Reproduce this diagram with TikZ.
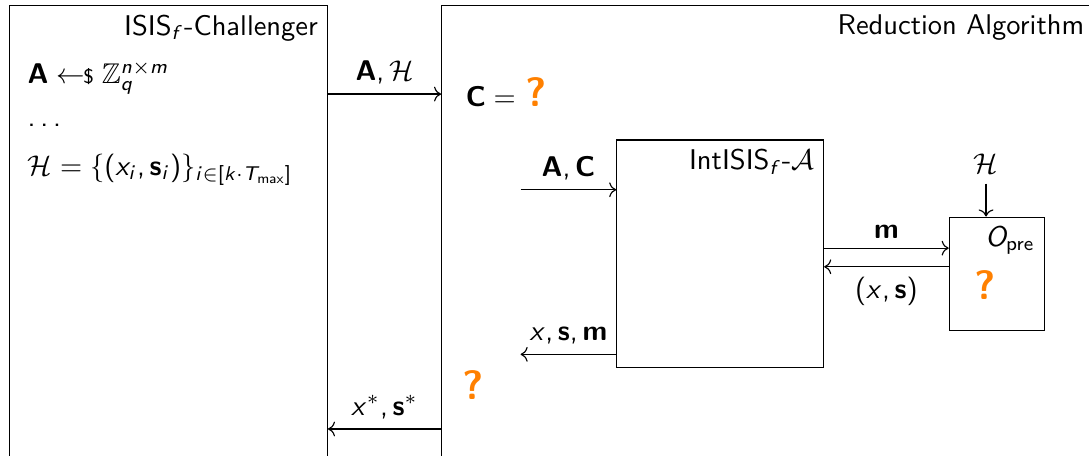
\documentclass[tikz,border=0pt]{standalone}
\usepackage{amsmath,amssymb}
\usepackage{tikz}
\usetikzlibrary{arrows.meta,positioning,calc}
\usepackage{xcolor}
\renewcommand{\familydefault}{\sfdefault}
% 无衬线数学字体
\SetSymbolFont{operators}{normal}{OT1}{cmss}{m}{n}
\SetSymbolFont{letters}{normal}{OT1}{cmss}{m}{sl}
\DeclareMathAlphabet{\mathbf}{OT1}{cmss}{bx}{n}
\DeclareMathSymbol{,}{\mathpunct}{operators}{"2C}
\definecolor{qorange}{RGB}{255,128,0}
\newcommand{\qmark}{\textcolor{qorange}{\textbf{\Large ?}}}

\begin{document}
\begin{tikzpicture}[
    box/.style={draw, inner sep=0pt, anchor=north west},
    title/.style={anchor=north east},
    line/.style={anchor=west, inner sep=1pt}
]
    \useasboundingbox (0,0) rectangle (13.43,5.62);
    \clip (0,0) rectangle (13.43,5.62);

    % 挑战者
    \node[box, minimum width=3.92cm, minimum height=6cm] (chal) at (0.11,5.56) {};
    \node[title] at (chal.north east) {ISIS$_f$-Challenger};
    \node[line] (samp) at (0.30,4.66) {$\mathbf{A} \leftarrow\!\!{\scriptstyle\$}\; \mathbb{Z}_q^{n\times m}$};
    \node[line] (dots) at (0.30,4.07) {.\,.\,.};
    \node[line] (hist) at (0.30,3.53) {$\mathcal{H} = \{(x_i, \mathbf{s}_i)\}_{i\in[k\cdot T_{\max}]}$};

    % 归约算法
    \node[box, minimum width=8.04cm, minimum height=6cm] (red) at (5.44,5.56) {};
    \node[title] at (red.north east) {Reduction Algorithm};
    \node[anchor=west] (cdef) at (5.62,4.49) {$\mathbf{C} = $ \qmark};
    \node (qred) at (5.83,0.87) {\qmark};

    % 敌手
    \node[box, minimum width=2.55cm, minimum height=2.8cm] (adv) at (7.60,3.90) {};
    \node[title] at (adv.north east) {IntISIS$_f$-$\mathcal{A}$};

    % 预言机
    \node[box, minimum width=1.17cm, minimum height=1.4cm] (orc) at (11.70,2.95) {};
    \node[title] at (orc.north east) {$O_{\mathrm{pre}}$};
    \node (qorc) at (12.15,2.10) {\qmark};
    \node (horc) at (12.16,3.60) {$\mathcal{H}$};

    % 消息
    \coordinate (yah) at (0,4.46);
    \coordinate (yxs) at (0,0.33);
    \coordinate (ain) at (6.42,3.28);
    \coordinate (aout) at (6.42,1.25);
    \coordinate (ym) at (0,2.56);
    \coordinate (yr) at (0,2.33);

    \draw[->] (chal.east |- yah) -- (red.west |- yah) node[midway, above] {$\mathbf{A}, \mathcal{H}$};
    \draw[->] (red.west |- yxs) -- (chal.east |- yxs) node[midway, above] {$x^*, \mathbf{s}^*$};
    \draw[->] (ain) -- (adv.west |- ain) node[midway, above] {$\mathbf{A}, \mathbf{C}$};
    \draw[->] (adv.west |- aout) -- (aout) node[midway, above] {$x, \mathbf{s}, \mathbf{m}$};
    \draw[->] (adv.east |- ym) -- (orc.west |- ym) node[midway, above] {$\mathbf{m}$};
    \draw[->] (orc.west |- yr) -- (adv.east |- yr) node[midway, below] {$(x, \mathbf{s})$};
    \draw[->] (horc) -- (orc.north -| horc);
\end{tikzpicture}
\end{document}
